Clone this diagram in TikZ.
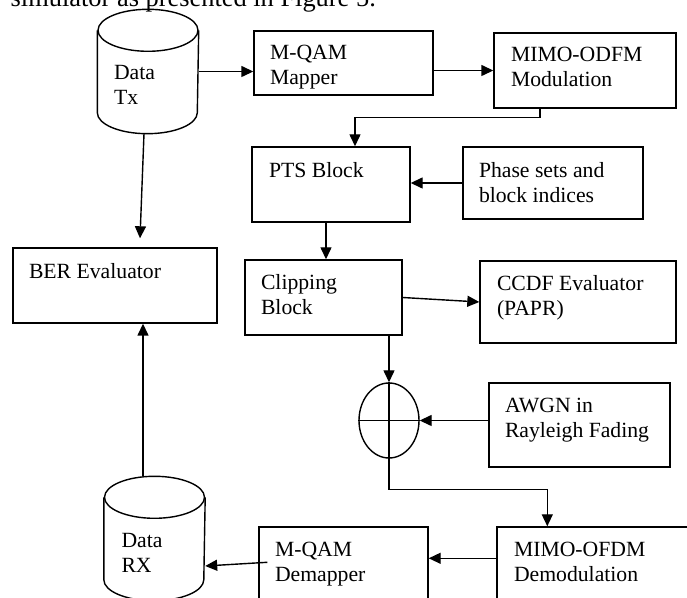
\documentclass[tikz,border=0pt]{standalone}
\usepackage{fontspec}
\setmainfont{Liberation Serif}
\usetikzlibrary{arrows.meta, shapes.geometric, positioning, calc}

\begin{document}
\begin{tikzpicture}[
  x=0.5pt, y=-0.5pt, line width=0.7pt,
  blk/.style={draw, inner sep=0pt},
  db/.style={inner sep=0pt, minimum width=50pt, minimum height=61.5pt},
  lbl/.style={anchor=north west, inner sep=0pt, align=left,
    font=\fontsize{10.85pt}{12.5pt}\selectfont},
  >={Triangle[length=6pt, width=5.5pt]}
]
  \clip (0,0) rectangle (687,598);

  % running text above the figure
  \node[anchor=base west, inner sep=0pt, font=\fontsize{13.2pt}{16pt}\selectfont]
    (captxt) at (10,7) {simulator as presented in Figure 5.};

  % transmitter side
  \node[db] (datatx) at (148,71.5) {};
  \draw ($(datatx.north)+(0,21)$) ellipse[x radius=25pt, y radius=10.5pt];
  \draw ($(datatx.north west)+(0,21)$) -- ($(datatx.south west)+(0,-21)$)
    arc[start angle=180, end angle=360, x radius=25pt, y radius=10.5pt]
    -- ($(datatx.north east)+(0,21)$);
  \node[lbl] (datatx-t) at ($(datatx.north west)+(16,55)$) {Data\\Tx};

  \node[blk, minimum width=89.5pt, minimum height=32pt] (mapper) at (343.5,63) {};
  \node[lbl] (mapper-t) at ($(mapper.north west)+(16,14)$) {M-QAM\\Mapper};

  \node[blk, minimum width=91pt, minimum height=37.5pt] (modul) at (585,70.5) {};
  \node[lbl] (modul-t) at ($(modul.north west)+(17,14)$) {MIMO-ODFM\\Modulation};

  \node[blk, minimum width=79pt, minimum height=37.5pt] (pts) at (331,184.5) {};
  \node[lbl] (pts-t) at ($(pts.north west)+(17,15)$) {PTS Block};

  \node[blk, minimum width=90pt, minimum height=36pt] (phase) at (553,183) {};
  \node[lbl] (phase-t) at ($(phase.north west)+(16,15)$) {Phase sets and\\block indices};

  \node[blk, minimum width=102pt, minimum height=37.5pt] (ber) at (115,285.5) {};
  \node[lbl] (ber-t) at ($(ber.north west)+(16,15)$) {BER Evaluator};

  \node[blk, minimum width=78.5pt, minimum height=37.5pt] (clip) at (323.5,297.5) {};
  \node[lbl] (clip-t) at ($(clip.north west)+(16,14)$) {Clipping\\Block};

  \node[blk, minimum width=98pt, minimum height=41pt] (ccdf) at (578,302) {};
  \node[lbl] (ccdf-t) at ($(ccdf.north west)+(17,14)$) {CCDF Evaluator\\(PAPR)};

  % channel
  \node[draw, ellipse, minimum width=30pt, minimum height=37.5pt, inner sep=0pt]
    (adder) at (389,420.5) {};
  \draw (adder.north) -- (adder.south) (adder.west) -- (adder.east);

  \node[blk, minimum width=90.5pt, minimum height=42pt] (awgn) at (579.5,425) {};
  \node[lbl] (awgn-t) at ($(awgn.north west)+(16,15)$) {AWGN in\\Rayleigh Fading};

  % receiver side
  \node[blk, minimum width=84.5pt, minimum height=37.5pt] (demap) at (343.5,564.5) {};
  \node[lbl] (demap-t) at ($(demap.north west)+(16,15)$) {M-QAM\\Demapper};

  \node[blk, minimum width=97.5pt, minimum height=37.5pt] (demod) at (594.5,564.5) {};
  \node[lbl] (demod-t) at ($(demod.north west)+(17,15)$) {MIMO-OFDM\\Demodulation};

  \node[db] (datarx) at (154.5,538.5) {};
  \draw ($(datarx.north)+(0,21)$) ellipse[x radius=25pt, y radius=10.5pt];
  \draw ($(datarx.north west)+(0,21)$) -- ($(datarx.south west)+(0,-21)$)
    arc[start angle=180, end angle=360, x radius=25pt, y radius=10.5pt]
    -- ($(datarx.north east)+(0,21)$);
  \node[lbl] (datarx-t) at ($(datarx.north west)+(17,56)$) {Data\\RX};

  % signal flow
  \draw[->] (datatx.east) -- (datatx.east -| mapper.west);
  \draw[->] (mapper.east |- modul.west) -- (modul.west);
  \draw[->] ($(modul.south)+(-45,0)$) -- ++(0,9) -| ($(pts.north)+(24,0)$);
  \draw[->] (phase.west) -- (phase.west -| pts.east);
  \draw[->] ($(pts.south)+(-5,0)$) -- ($(clip.north)+(2.5,0)$);
  \draw[->] ($(datatx.south)+(-4,0)$) -- ($(ber.north)+(25,-9)$);
  \draw[->] (clip.east) -- (ccdf.west);
  \draw[->] (adder.north |- clip.south) -- (adder.north);
  \draw[->] (awgn.west |- adder.east) -- (adder.east);
  \draw[->] (adder.south) -- ++(0,31) -| ($(demod.north west)+(51,0)$);
  \draw[->] ($(demod.north west)+(0,32)$) -- ($(demap.north east)+(0,32)$);
  \draw[->] ($(demap.north west)+(9,36)$) -- ($(datarx.east)+(0,27.5)$);
  \draw[->] ($(datarx.north)+(-11.5,0)$) -- ($(ber.south)+(28,0)$);
\end{tikzpicture}
\end{document}
